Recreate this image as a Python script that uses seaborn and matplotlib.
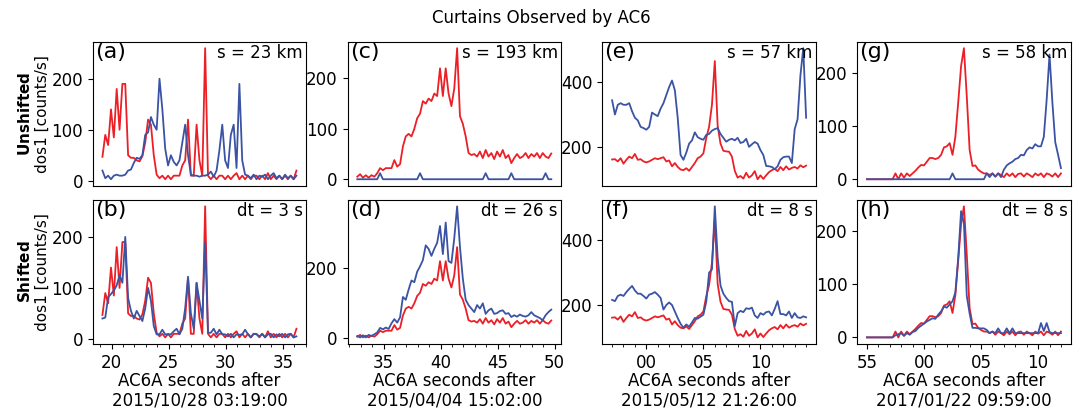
import numpy as np
import matplotlib
matplotlib.use("Agg")
import matplotlib.pyplot as plt
import seaborn as sns
from matplotlib.ticker import MultipleLocator, FuncFormatter

# -------------------
# Data: 0.25 s samples, 17 s windows (seconds after the minute in each date)
t_start = [19.2, 32.7, -3.0, -5.0]
n_samples = 69
step = 0.25

dates = ['2015/10/28 03:19:00', '2015/04/04 15:02:00',
         '2015/05/12 21:26:00', '2017/01/22 09:59:00']
sep_labels = ['s = 23 km', 's = 193 km', 's = 57 km', 's = 58 km']
dt_labels = ['dt = 3 s', 'dt = 26 s', 'dt = 8 s', 'dt = 8 s']
panel_top = ['(a)', '(c)', '(e)', '(g)']
panel_bot = ['(b)', '(d)', '(f)', '(h)']

# Event 1 (2015/10/28)
ac6a_1 = [47, 90, 70, 140, 85, 180, 100, 190, 190, 50,
          45, 45, 40, 38, 48, 75, 120, 110, 50, 12,
          5, 10, 3, 10, 3, 10, 10, 10, 30, 40,
          120, 10, 10, 110, 40, 10, 260, 10, 3, 10,
          3, 10, 10, 3, 10, 3, 10, 15, 3, 10,
          3, 10, 3, 10, 10, 3, 10, 3, 15, 3,
          10, 3, 10, 3, 10, 3, 10, 3, 20]
ac6b_1 = [20, 5, 10, 3, 10, 12, 10, 10, 12, 20,
          22, 35, 45, 43, 50, 90, 95, 125, 110, 100,
          200, 140, 63, 30, 50, 37, 30, 40, 75, 110,
          50, 12, 10, 10, 8, 10, 10, 12, 18, 8,
          20, 60, 110, 40, 25, 90, 110, 25, 190, 40,
          12, 10, 5, 12, 3, 10, 8, 12, 3, 10,
          15, 5, 10, 3, 12, 5, 10, 3, 10]
ac6b_1_shift = [40, 42, 82, 88, 95, 105, 125, 110, 200, 80,
                55, 40, 55, 45, 35, 60, 100, 75, 25, 9,
                9, 18, 9, 9, 9, 15, 20, 9, 20, 60,
                122, 50, 20, 110, 75, 40, 190, 12, 12, 20,
                9, 18, 9, 9, 5, 10, 3, 9, 8, 9,
                18, 9, 3, 10, 9, 5, 10, 3, 9, 10,
                3, 9, 5, 10, 3, 9, 10, 3, 5]

# Event 2 (2015/04/04)
ac6a_2 = [5, 10, 3, 8, 3, 8, 5, 12, 22, 18,
          22, 22, 22, 38, 25, 30, 65, 85, 90, 85,
          100, 121, 130, 155, 150, 160, 155, 170, 165, 220,
          165, 220, 170, 145, 180, 260, 125, 110, 85, 52,
          48, 50, 45, 55, 42, 58, 45, 52, 40, 55,
          45, 58, 42, 48, 32, 42, 50, 42, 45, 52,
          42, 50, 45, 52, 42, 52, 45, 42, 51]
ac6b_2 = [0, 0, 0, 0, 0, 0, 0, 0, 12, 0,
          0, 0, 0, 0, 0, 0, 0, 0, 0, 0,
          0, 0, 12, 0, 0, 0, 0, 0, 0, 0,
          0, 0, 0, 0, 0, 0, 0, 0, 0, 0,
          0, 0, 0, 0, 0, 12, 0, 0, 0, 0,
          0, 0, 0, 0, 12, 0, 0, 0, 0, 0,
          0, 0, 0, 0, 0, 0, 12, 0, 0]
ac6b_2_shift = [7, 3, 9, 3, 10, 7, 12, 17, 30, 26,
                31, 27, 43, 55, 45, 60, 118, 110, 139, 165,
                160, 190, 205, 223, 265, 255, 235, 255, 272, 320,
                240, 330, 220, 215, 285, 376, 260, 170, 110, 95,
                85, 75, 95, 85, 100, 70, 80, 85, 70, 72,
                78, 80, 70, 72, 61, 66, 62, 68, 64, 62,
                66, 75, 66, 62, 58, 52, 66, 75, 82]

# Event 3 (2015/05/12)
ac6a_3 = [161, 162, 155, 165, 148, 160, 170, 165, 178, 160,
          162, 155, 152, 155, 160, 165, 162, 165, 168, 155,
          158, 140, 150, 138, 130, 128, 134, 126, 138, 150,
          165, 170, 180, 227, 262, 330, 465, 265, 210, 188,
          186, 185, 170, 126, 105, 110, 102, 120, 105, 112,
          125, 100, 112, 101, 112, 122, 128, 132, 125, 138,
          128, 140, 130, 135, 138, 133, 143, 137, 142]
ac6b_3 = [344, 300, 330, 335, 330, 330, 335, 310, 290, 282,
          262, 258, 253, 262, 306, 300, 295, 318, 335, 360,
          385, 405, 375, 290, 175, 160, 182, 210, 220, 245,
          230, 225, 222, 237, 240, 250, 255, 258, 240, 228,
          216, 222, 225, 220, 228, 212, 215, 225, 200, 208,
          215, 210, 190, 175, 141, 140, 138, 131, 140, 160,
          168, 170, 170, 150, 255, 285, 420, 505, 290]
ac6b_3_shift = [216, 212, 228, 232, 228, 240, 250, 259, 245, 235,
                235, 228, 220, 232, 235, 240, 232, 222, 186, 200,
                208, 200, 180, 160, 142, 130, 140, 133, 146, 160,
                158, 164, 170, 210, 300, 310, 505, 346, 260, 235,
                222, 212, 210, 135, 175, 182, 178, 190, 188, 192,
                168, 160, 175, 170, 178, 180, 168, 188, 212, 172,
                172, 168, 180, 160, 175, 162, 160, 165, 162]

# Event 4 (2017/01/22)
ac6a_4 = [0, 0, 0, 0, 0, 0, 0, 0, 0, 0,
          11, 0, 11, 3, 11, 6, 11, 16, 22, 27,
          26, 33, 40, 40, 38, 40, 46, 60, 62, 68,
          46, 80, 145, 213, 247, 156, 55, 25, 26, 18,
          14, 11, 11, 8, 11, 5, 11, 8, 4, 11,
          6, 11, 4, 10, 11, 5, 11, 8, 4, 11,
          7, 11, 4, 11, 9, 5, 11, 4, 11]
ac6b_4 = [0, 0, 0, 0, 0, 0, 0, 0, 0, 0,
          0, 0, 0, 0, 0, 0, 0, 0, 0, 0,
          0, 0, 0, 0, 0, 0, 0, 0, 0, 0,
          11, 0, 0, 0, 0, 0, 0, 0, 0, 0,
          0, 0, 11, 4, 11, 5, 11, 4, 18, 26,
          30, 33, 38, 40, 46, 45, 55, 60, 58, 66,
          62, 62, 80, 150, 235, 145, 70, 46, 21]
ac6b_4_shift = [0, 0, 0, 0, 0, 0, 0, 0, 0, 0,
                4, 6, 8, 3, 8, 5, 10, 12, 18, 22,
                26, 30, 33, 36, 35, 43, 49, 58, 56, 62,
                68, 85, 150, 238, 215, 78, 45, 18, 18, 17,
                17, 17, 14, 8, 11, 8, 17, 8, 8, 17,
                8, 17, 8, 8, 8, 8, 8, 8, 8, 8,
                8, 27, 12, 27, 10, 8, 8, 8, 8]

ac6a = [ac6a_1, ac6a_2, ac6a_3, ac6a_4]
ac6b = [ac6b_1, ac6b_2, ac6b_3, ac6b_4]
ac6b_shift = [ac6b_1_shift, ac6b_2_shift, ac6b_3_shift, ac6b_4_shift]
y_major = [[100, 100], [100, 200], [200, 200], [100, 100]]

RED = '#ec1f26'
BLUE = '#3a53a4'

# -------------------
# Figure
fig, axes = plt.subplots(2, 4, figsize=(10.82, 4.08), dpi=100)
fig.subplots_adjust(left=0.0857, right=0.9895, top=0.898, bottom=0.157,
                    wspace=0.194, hspace=0.097)

sec_fmt = FuncFormatter(lambda v, p: f"{int(round(v)) % 60:02d}")

for j in range(4):
    t = t_start[j] + step * np.arange(n_samples)
    for i, blue in enumerate([ac6b[j], ac6b_shift[j]]):
        ax = axes[i, j]
        sns.lineplot(x=t, y=ac6a[j], ax=ax, color=RED, linewidth=1.3)
        sns.lineplot(x=t, y=blue, ax=ax, color=BLUE, linewidth=1.3)
        ax.yaxis.set_major_locator(MultipleLocator(y_major[j][i]))
        ax.xaxis.set_major_locator(MultipleLocator(5))
        ax.xaxis.set_minor_locator(MultipleLocator(1))
        ax.xaxis.set_major_formatter(sec_fmt)
        ax.tick_params(labelsize=12)
        lab = panel_top[j] if i == 0 else panel_bot[j]
        ax.text(0.01, 0.995, lab, transform=ax.transAxes, ha='left', va='top',
                fontsize=16)
        txt = sep_labels[j] if i == 0 else dt_labels[j]
        ax.text(0.985, 0.985, txt, transform=ax.transAxes, ha='right', va='top',
                fontsize=12)
        if i == 0:
            ax.tick_params(axis='x', which='both', bottom=False, labelbottom=False)
        else:
            ax.set_xlabel(f"AC6A seconds after\n{dates[j]}", fontsize=12,
                          labelpad=0, linespacing=1.12)

axes[0, 0].set_ylabel("$\\bf{Unshifted}$\ndos1 [counts/s]", fontsize=11, labelpad=1)
axes[1, 0].set_ylabel("$\\bf{Shifted}$\ndos1 [counts/s]", fontsize=11, labelpad=1)

fig.suptitle("Curtains Observed by AC6", fontsize=12, y=0.956, va='center')

plt.savefig("out.png", dpi=100)
